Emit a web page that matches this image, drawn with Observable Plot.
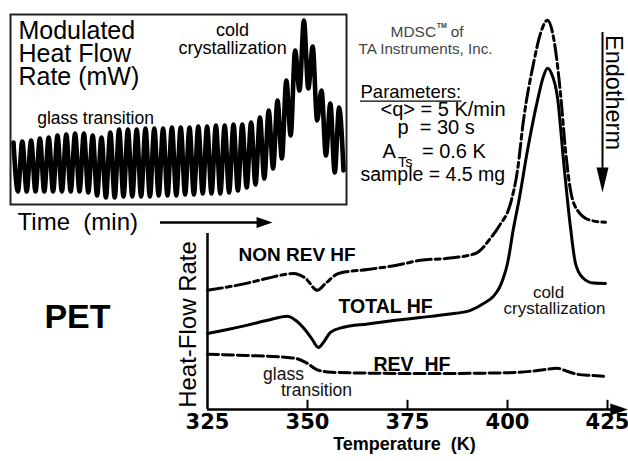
<!DOCTYPE html>
<html><head><meta charset="utf-8">
<script src="https://cdn.jsdelivr.net/npm/d3@7"></script>
<script src="https://cdn.jsdelivr.net/npm/@observablehq/plot@0.6"></script>
<style>
body{margin:0;background:#fff;}
#wrap{position:relative;width:628px;height:461px;background:#fff;}
#wrap svg{position:absolute;left:0;top:0;}
svg text{white-space:pre;}
</style></head><body><div id="wrap"></div>
<script>
// ---- main chart data (temperature K, heat-flow rate, arbitrary units) ----
const totalT  = [325,330,335,340,345,347,349.5,351,352.75,354,355.75,358.75,365,372,378.25,385,390.75,394,396.5,398,399,400,401.5,403,405,407.5,409,410,411,412.5,414,415.75,417,418.75,421.5,424.5];
const totalHF = [19,20,21.1,22.3,23.3,22.3,19.8,17.8,15.5,16.8,19.3,20.5,21.4,22.3,23,23.8,24.8,26.5,28.3,30.5,33,36.5,45.3,53,64.8,77.3,83.3,85.3,84,78,62.3,45.5,36.5,33,31.6,31.5];
const nonRevT  = [325,335,340,346.5,349.5,352.5,354.5,357.75,365,372,378.25,385,392,395.75,398,400.75,402.5,404,406.5,408.25,410,411.5,413.25,414.5,415.75,417.5,420.75,424.5];
const nonRevHF = [29.8,31.6,32.8,34,32.8,29.8,31.5,34,35,36,37.3,37.8,39,42.8,46,51.5,59.8,72.3,86.5,94,97.3,93,79,64.8,54.8,49.8,47.3,46.8];
const revT  = [325,335,345,347,349.5,352.75,356,365,375,385,395,403,408,412.5,415,417.5,421,424];
const revHF = [13.8,13.5,13,12.8,11.8,9.8,9.3,9.1,9,9,9.1,9.3,9.8,10.3,9.5,8.8,8.5,8.3];
const xTicks = [325,350,375,400,425];

// ---- inset: modulated heat-flow rate, maxima and minima of each 30 s cycle ----
const modPeriod = 0.5; // min
const modMax = [31,31.5,32,33,33.5,34.5,35,35.5,35.5,34.5, 33.5,36,37.5,37.5,37.5,38,38,38,38.5,38.5, 38.5,39,39,39.5,39.5,40,40,41,43.5,47, 52,62,77,92,79,57,50.5,48.5];
const modMin = [6.5,6.5,6.5,6.5,6.5,6.5,6.5,6.5,6,4.5, 3.5,3.5,4,4,4,4,4.5,4.5,4.5,5, 5,5.5,5.5,5.5,6,7,8.5,10,13,18, 23,34.5,57,58,42,24.5,16,17];

const F = "Liberation Sans, Arial, Helvetica, sans-serif";
const total  = totalT.map((T,i)=>({T, v: totalHF[i]}));
const nonRev = nonRevT.map((T,i)=>({T, v: nonRevHF[i]}));
const rev    = revT.map((T,i)=>({T, v: revHF[i]}));
const mod = [];
modMax.forEach((v,i)=>{
  mod.push({t: 0.17 + modPeriod*i, v});
  mod.push({t: 0.42 + modPeriod*i, v: modMin[i]});
});

const tri = (len, half, dir) => ({
  draw(ctx) {
    if (dir === "down") { ctx.moveTo(-half,-len); ctx.lineTo(half,-len); ctx.lineTo(0,0); }
    else { ctx.moveTo(-len,-half); ctx.lineTo(-len,half); ctx.lineTo(0,0); }
    ctx.closePath();
  }
});

const T = (text, o) => Plot.text([text], {text: d=>d, fontFamily: F, ...o});

const main = Plot.plot({
  width: 628, height: 461,
  marginLeft: 207, marginRight: 21, marginTop: 9, marginBottom: 52,
  x: {domain: [325, 425], axis: null},
  y: {domain: [0, 100], axis: null},
  marks: [
    Plot.ruleY([0], {x1: 325, x2: 428, stroke: "black", strokeWidth: 2.5}),
    Plot.dot([{x: 430.2, y: 0}], {x: "x", y: "y", symbol: tri(18, 6, "right"), fill: "black", stroke: "none"}),
    Plot.ruleX([325], {y1: 0, y2: 44, stroke: "black", strokeWidth: 2.5}),
    Plot.ruleX(xTicks.slice(1), {y1: 0, y2: 2.3, stroke: "black", strokeWidth: 2}),
    Plot.text(xTicks, {x: d=>d, y: -4.75, text: d=>String(d), fontFamily: "DejaVu Sans", fontWeight: "bold", fontSize: 21, lineAnchor: "bottom"}),
    T("Temperature  (K)", {x: 374.25, y: -10, fontWeight: "bold", fontSize: 18, lineAnchor: "bottom"}),
    T("Heat-Flow Rate", {x: 320.25, y: 21.25, rotate: -90, fontSize: 24}),
    Plot.line(rev, {x: "T", y: "v", curve: "monotone-x", stroke: "black", strokeWidth: 3, strokeDasharray: "11,4"}),
    Plot.line(nonRev, {x: "T", y: "v", curve: "monotone-x", stroke: "black", strokeWidth: 3, strokeDasharray: "15,4,5,4"}),
    Plot.line(total, {x: "T", y: "v", curve: "monotone-x", stroke: "black", strokeWidth: 3}),
    T("NON REV HF", {x: 332.75, y: 37.25, textAnchor: "start", lineAnchor: "bottom", fontWeight: "bold", fontSize: 19}),
    T("TOTAL HF", {x: 357.75, y: 24.25, textAnchor: "start", lineAnchor: "bottom", fontWeight: "bold", fontSize: 19.5}),
    T("REV  HF", {x: 366.5, y: 9.75, textAnchor: "start", lineAnchor: "bottom", fontWeight: "bold", fontSize: 19.5}),
    T("glass", {x: 344, y: 7.5, lineAnchor: "bottom", fontSize: 17.5, fill: "#111"}),
    T("transition", {x: 352.25, y: 3.3, lineAnchor: "bottom", fontSize: 17.5, fill: "#111"}),
    T("cold", {x: 410.25, y: 28, lineAnchor: "bottom", fontSize: 17, fill: "#111"}),
    T("crystallization", {x: 411.75, y: 24, lineAnchor: "bottom", fontSize: 17, fill: "#111"}),
    T("PET", {x: 292.5, y: 20.5, lineAnchor: "bottom", fontWeight: "bold", fontSize: 34}),
    T("MDSC", {x: 370.75, y: 93.25, textAnchor: "start", lineAnchor: "bottom", fontSize: 15.5, fill: "#444"}),
    T("TM", {x: 382.3, y: 95.4, textAnchor: "start", lineAnchor: "bottom", fontSize: 7, fontWeight: "bold", fill: "#444"}),
    T("of", {x: 385.8, y: 93.25, textAnchor: "start", lineAnchor: "bottom", fontSize: 15.5, fill: "#444"}),
    T("TA Instruments, Inc.", {x: 379.5, y: 89, lineAnchor: "bottom", fontSize: 15.2, fill: "#444"}),
    T("Parameters:", {x: 363.25, y: 78, textAnchor: "start", lineAnchor: "bottom", fontSize: 18.5}),
    Plot.ruleY([77.1], {x1: 363.25, x2: 388.6, stroke: "black", strokeWidth: 1.3}),
    T("<q> = 5 K/min", {x: 368.25, y: 73.4, textAnchor: "start", lineAnchor: "bottom", fontSize: 20}),
    T("p  = 30 s", {x: 372.5, y: 69, textAnchor: "start", lineAnchor: "bottom", fontSize: 20}),
    T("A", {x: 368.75, y: 63, textAnchor: "start", lineAnchor: "bottom", fontSize: 20}),
    T("Ts", {x: 372.6, y: 60.6, textAnchor: "start", lineAnchor: "bottom", fontSize: 14.5}),
    T("= 0.6 K", {x: 378.6, y: 63, textAnchor: "start", lineAnchor: "bottom", fontSize: 20}),
    T("sample = 4.5 mg", {x: 363.25, y: 57.25, textAnchor: "start", lineAnchor: "bottom", fontSize: 19.5}),
    T("Endotherm", {x: 426.5, y: 79.25, rotate: 90, fontSize: 23.5}),
    Plot.ruleX([423.75], {y1: 58, y2: 94.25, stroke: "black", strokeWidth: 2}),
    Plot.dot([{x: 423.75, y: 54.25}], {x: "x", y: "y", symbol: tri(25, 6, "down"), fill: "black", stroke: "none"})
  ]
});

const inset = Plot.plot({
  width: 350, height: 235,
  marginLeft: 10, marginRight: 4, marginTop: 14, marginBottom: 31,
  style: {background: "transparent", overflow: "visible"},
  x: {domain: [0, 19.09], axis: null},
  y: {domain: [0, 95], axis: null},
  marks: [
    Plot.frame({stroke: "#222", strokeWidth: 2}),
    Plot.line(mod, {x: "t", y: "v", curve: "monotone-x", stroke: "black", strokeWidth: 4.6}),
    T("Modulated\nHeat Flow\nRate (mW)", {x: 0.45, y: 60, textAnchor: "start", lineAnchor: "bottom", lineHeight: 0.92, fontSize: 25}),
    T("glass transition", {x: 4.83, y: 40.5, lineAnchor: "bottom", fontSize: 17.5}),
    T("cold\ncrystallization", {x: 12.62, y: 75.5, lineAnchor: "bottom", lineHeight: 1.0, fontSize: 18}),
    T("Time  (min)", {x: 0.4, y: -12.5, textAnchor: "start", lineAnchor: "bottom", fontSize: 24}),
    Plot.ruleY([-9], {x1: 8.52, x2: 14.2, stroke: "black", strokeWidth: 2.5}),
    Plot.dot([{x: 14.89, y: -9}], {x: "x", y: "y", symbol: tri(16, 5.5, "right"), fill: "black", stroke: "none"})
  ]
});

const wrap = document.getElementById("wrap");
wrap.appendChild(main);
wrap.appendChild(inset);
</script></body></html>
